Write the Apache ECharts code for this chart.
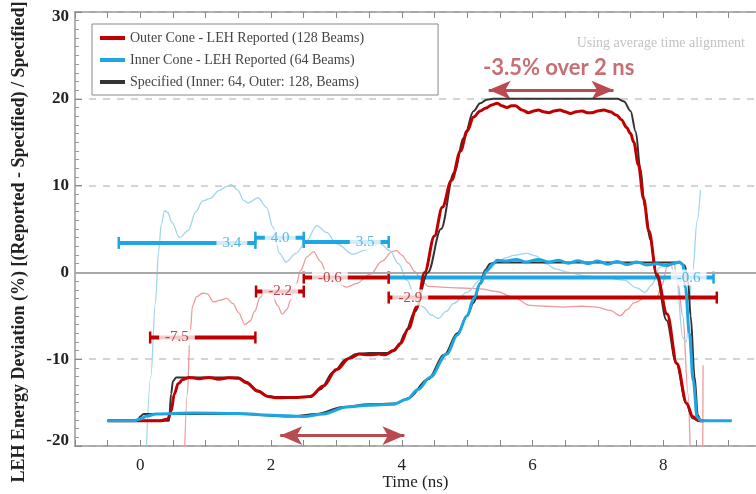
<!DOCTYPE html>
<html>
<head>
<meta charset="utf-8">
<script src="https://cdn.jsdelivr.net/npm/echarts@6/dist/echarts.min.js"></script>
<style>html,body{margin:0;padding:0;background:#fff}#c{width:756px;height:494px}</style>
</head>
<body>
<div id="c"></div>
<script>
// ---------- data (time in ns, deviation in %) ----------
const xTickLabels = [0, 2, 4, 6, 8];
const yTickLabels = [-20, -10, 0, 10, 20, 30];

const outerReported = [[-0.5,-17.1],[0.3,-17.1],[0.42,-16.9],[0.47,-16],[0.52,-14],[0.58,-12.8],[0.65,-12.35],[0.75,-12.1],[0.9,-12.25],[1.05,-12.1],[1.2,-12.3],[1.35,-12.15],[1.5,-12.2],[1.62,-12.7],[1.8,-13.7],[1.95,-14.3],[2.1,-14.45],[2.4,-14.4],[2.6,-14.3],[2.8,-13.1],[3.0,-11.2],[3.2,-9.9],[3.35,-9.4],[3.5,-9.5],[3.65,-9.4],[3.75,-9.5],[3.88,-9.0],[3.98,-8.2],[4.1,-6.5],[4.23,-4.0],[4.35,0],[4.5,4.2],[4.62,7.5],[4.76,10.6],[4.9,14],[5.0,16.3],[5.1,17.9],[5.2,18.6],[5.28,18.9],[5.38,19.3],[5.46,19.5],[5.53,19.2],[5.61,19.0],[5.68,19.2],[5.74,19.2],[5.84,18.7],[5.94,18.4],[6.02,18.6],[6.09,18.7],[6.17,18.5],[6.25,18.4],[6.33,18.6],[6.42,18.7],[6.5,18.5],[6.58,18.3],[6.67,18.5],[6.76,18.6],[6.84,18.4],[6.91,18.4],[7.0,18.6],[7.09,18.7],[7.19,18.5],[7.29,18.1],[7.36,17.6],[7.44,16.7],[7.5,16.0],[7.55,15.0],[7.62,12.4],[7.7,8.5],[7.78,4.8],[7.9,-0.2],[8.06,-4.8],[8.21,-10.5],[8.36,-15.1],[8.45,-16.6],[8.55,-17.1],[8.62,-17.1]];

const innerReported = [[-0.5,-17.1],[-0.1,-17.1],[0.0,-16.9],[0.1,-16.55],[0.24,-16.3],[0.8,-16.2],[1.5,-16.25],[2.0,-16.45],[2.5,-16.6],[2.8,-16.3],[3.16,-15.5],[3.5,-15.3],[3.87,-15.2],[4.08,-14.6],[4.25,-13.5],[4.43,-12.1],[4.69,-9.4],[4.85,-7.2],[5.0,-5],[5.1,-3],[5.2,-1.3],[5.3,0.2],[5.4,1.0],[5.46,1.4],[5.6,1.3],[5.75,1.5],[5.9,1.2],[6.09,1.5],[6.25,1.2],[6.4,1.4],[6.55,1.05],[6.7,1.35],[6.85,1.0],[7.0,1.3],[7.15,0.95],[7.3,1.25],[7.45,0.9],[7.6,1.2],[7.75,0.85],[7.9,1.0],[8.05,0.8],[8.15,1.0],[8.25,1.2],[8.3,0.9],[8.34,-1.7],[8.4,-7],[8.46,-12.5],[8.52,-16.7],[8.58,-17.1],[9.05,-17.1]];

const outerSpecified = [[-0.5,-17.1],[0.44,-17.1],[0.47,-14],[0.5,-12.5],[0.55,-12.1],[1.5,-12.1],[1.62,-12.6],[1.8,-13.6],[1.95,-14.25],[2.05,-14.35],[2.6,-14.35],[2.75,-13.5],[2.95,-11.5],[3.15,-10],[3.3,-9.4],[3.5,-9.3],[3.78,-9.3],[3.85,-9.0],[3.95,-8.5],[4.05,-7],[4.2,-4.5],[4.4,0],[4.6,5],[4.8,11.5],[4.95,15.5],[5.1,18.6],[5.2,19.5],[5.3,19.9],[5.4,20],[7.3,20],[7.4,19.7],[7.5,18.6],[7.58,16.2],[7.65,12],[7.72,7.5],[7.8,3.8],[7.9,-0.5],[8.05,-5.5],[8.2,-10.5],[8.35,-15],[8.45,-16.8],[8.55,-17.1],[8.6,-17.1]];

const innerSpecified = [[-0.5,-17.1],[-0.05,-17.1],[0.0,-16.6],[0.05,-16.3],[1.5,-16.3],[2.3,-16.6],[2.7,-16.3],[3.1,-15.5],[3.5,-15.2],[3.9,-15.1],[4.1,-14.5],[4.4,-12.3],[4.65,-9.5],[4.85,-7],[5.0,-5],[5.1,-3.5],[5.2,-1.2],[5.28,0.3],[5.35,1.0],[5.45,1.15],[8.25,1.15],[8.33,0.8],[8.38,-1],[8.42,-5],[8.48,-12],[8.53,-16.5],[8.58,-17.1],[8.7,-17.1]];

const innerDeviation = [[0.07,-25],[0.16,-12],[0.23,-3.5],[0.28,2.5],[0.32,5.5],[0.37,7.1],[0.42,6.9],[0.48,5.8],[0.6,4.0],[0.73,4.8],[0.85,7.0],[0.95,8.2],[1.06,8.5],[1.21,9.45],[1.32,9.9],[1.39,10.1],[1.49,9.5],[1.58,8.3],[1.65,8.0],[1.8,8.6],[1.93,7.5],[2.03,5.2],[2.13,2.2],[2.23,1.2],[2.38,2.2],[2.54,3.6],[2.7,5.4],[2.85,4.6],[3.0,3.3],[3.26,2.1],[3.45,2.6],[3.67,3.3],[3.82,2.5],[3.95,1.0],[4.08,-0.9],[4.2,-2.8],[4.33,-4.0],[4.45,-4.9],[4.56,-5.3],[4.68,-4.5],[4.79,-3.6],[5.0,-2.3],[5.2,-0.9],[5.35,0.4],[5.46,1.2],[5.6,1.7],[5.71,1.95],[5.91,2.2],[6.05,1.9],[6.2,1.0],[6.35,0.4],[6.55,0],[6.8,-0.4],[7.1,-0.6],[7.4,-0.9],[7.6,-1.8],[7.72,-2.3],[7.82,-1.5],[7.95,0.6],[8.1,1.0],[8.2,-0.5],[8.3,-7.5],[8.35,-8],[8.45,0],[8.52,6],[8.57,9.5]];

const outerDeviation = [[0.66,-25],[0.72,-14],[0.76,-7],[0.8,-3.8],[0.86,-2.8],[0.95,-2.4],[1.02,-2.45],[1.12,-3.4],[1.22,-3.2],[1.32,-3.0],[1.42,-3.6],[1.5,-4.6],[1.6,-6.0],[1.68,-5.6],[1.75,-4.5],[1.83,-2.9],[1.92,-2.0],[2.02,-2.6],[2.1,-3.8],[2.17,-4.8],[2.24,-4.3],[2.3,-3.2],[2.38,-1.5],[2.45,0.2],[2.55,1.8],[2.65,2.4],[2.75,1.3],[2.86,-0.2],[3.0,-1.2],[3.16,-1.7],[3.3,-1.3],[3.52,-0.2],[3.7,1.3],[3.85,2.4],[3.92,2.5],[4.0,2.0],[4.1,1.1],[4.2,0.1],[4.3,-0.9],[4.4,-1.6],[4.6,-1.7],[4.9,-1.8],[5.2,-1.9],[5.45,-2.2],[5.71,-2.85],[5.96,-3.8],[6.2,-3.9],[6.47,-4.0],[6.75,-3.9],[6.98,-4.0],[7.2,-4.4],[7.34,-5.0],[7.45,-4.3],[7.55,-3.5],[7.75,-2.85],[7.9,-2.9],[7.98,-1.5],[8.06,0.6],[8.16,1.2],[8.22,-1],[8.3,-5],[8.38,-14],[8.44,-25],[8.6,-25],[8.61,-10.7]];

// average-deviation bars: [start, end, value, label position]
const innerAverages = [[-0.33,1.76,3.4,1.4],[1.76,2.5,4.0,2.14],[2.5,3.8,3.5,3.44],[3.8,8.77,-0.6,8.39]];
const outerAverages = [[0.15,1.76,-7.5,0.56],[1.77,2.5,-2.2,2.14],[2.5,3.8,-0.6,2.9],[3.8,8.82,-2.9,4.13]];

// double arrows: [start, end, value]
const arrowTop = [5.33, 7.24, 21.0];
const arrowBottom = [2.14, 4.04, -18.8];
const annotationText = ['-3.5% over 2 ns', 6.4, 23.6];

// ---------- styles ----------
const RED = '#c00000', BLUE = '#1ea6e2', BLACK = '#333333';
const LRED = '#ef9a9a', LBLUE = '#9fd5ee';
const ARROW = '#b94a50';
const SERIF = '"Liberation Serif","DejaVu Serif",serif';
const SPEC = 'Specified (Inner: 64, Outer: 128, Beams)';
const OUTER = 'Outer Cone - LEH Reported (128 Beams)';
const INNER = 'Inner Cone - LEH Reported (64 Beams)';

function curve(name, data, color, width, z) {
  return {type:'line', name, data, z, symbol:'none', smooth:0.35, smoothMonotone:'x',
    lineStyle:{color, width}, itemStyle:{color}, silent:true, animation:false};
}
function bars(list, color) {
  return list.map(b => ({type:'line', data:[[b[0],b[2]],[b[1],b[2]]], z:3, symbol:'rect',
    symbolSize:[2.5,12], showSymbol:true, lineStyle:{color, width:4},
    itemStyle:{color, borderWidth:0}, silent:true, animation:false}));
}
function barLabels(list, color) {
  return {type:'scatter', z:10, symbolSize:0, silent:true, animation:false,
    itemStyle:{color:'#ffffff'},
    data: list.map(b => ({value:[b[3], b[2]], name: b[2].toFixed(1)})),
    label:{show:true, position:'inside', formatter: p => p.name, color,
      textBorderWidth:0, textBorderColor:'transparent', textShadowBlur:0,
      fontFamily:SERIF, fontSize:15, backgroundColor:'#ffffff', padding:[1,6,0,6]}};
}
function arrow(a) {
  return [{coord:[a[0],a[2]]},{coord:[a[1],a[2]]}];
}

const series = [
  Object.assign(curve('dev-outer', outerDeviation, LRED, 1.3, 1), {
    markLine:{silent:true, symbol:'none', animation:false, label:{show:false},
      lineStyle:{color:'#a8a8a8', width:2, type:'solid'}, data:[{yAxis:0}]}}),
  curve('dev-inner', innerDeviation, LBLUE, 1.3, 1),
  ...bars(innerAverages, BLUE),
  ...bars(outerAverages, RED),
  curve(SPEC, outerSpecified, BLACK, 2, 5),
  curve(SPEC, innerSpecified, BLACK, 2, 5),
  curve(OUTER, outerReported, RED, 3, 6),
  curve(INNER, innerReported, BLUE, 3, 7),
  barLabels(innerAverages, '#2fa6dc'),
  barLabels(outerAverages, '#a8141c'),
  {type:'line', data:[], z:8, silent:true, animation:false,
    markLine:{silent:true, animation:false, symbol:['arrow','arrow'], symbolSize:[14,22],
      label:{show:false}, lineStyle:{color:ARROW, width:3, type:'solid'},
      data:[arrow(arrowTop), arrow(arrowBottom)]}},
  {type:'scatter', z:9, symbolSize:0, silent:true, animation:false,
    itemStyle:{color:'#ffffff'},
    data:[{value:[annotationText[1], annotationText[2]], name:annotationText[0]}],
    label:{show:true, position:'inside', formatter:p=>p.name, color:ARROW,
      textBorderWidth:0, textBorderColor:'transparent',
      fontFamily:'Lato,"Open Sans",sans-serif', fontWeight:'bold', fontSize:22}}
];

const axisLineStyle = {color:'#999', width:1.5};
const chart = echarts.init(document.getElementById('c'), null, {renderer:'canvas'});
chart.setOption({
  animation:false,
  backgroundColor:'#fff',
  title:{text:'Using average time alignment', right:6, top:31,
    textStyle:{fontFamily:SERIF, fontSize:14, fontWeight:'normal', color:'#c2c2c2'}},
  legend:{data:[OUTER, INNER, SPEC], orient:'vertical', left:92, top:24,
    icon:'rect', itemWidth:25, itemHeight:4, itemGap:8,
    padding:[7,74,6,8], borderColor:'#888', borderWidth:1, selectedMode:false,
    textStyle:{fontFamily:SERIF, fontSize:14, color:'#444'}},
  grid:{left:75, right:0, top:12, bottom:48, containLabel:false, outerBoundsMode:'none'},
  xAxis:[{
    type:'value', min:-1, max:9.42, interval:0.5, position:'bottom',
    name:'Time (ns)', nameLocation:'middle', nameGap:28, nameMoveOverlap:false,
    nameTextStyle:{fontFamily:SERIF, fontSize:17, color:'#222'},
    axisLine:{show:true, onZero:false, lineStyle:axisLineStyle},
    axisTick:{show:true, inside:true, length:6, lineStyle:{color:'#888'}},
    axisLabel:{interval:0, margin:11, fontFamily:SERIF, fontSize:17, color:'#222',
      formatter: v => (xTickLabels.indexOf(Math.round(v*100)/100) >= 0 ? String(v) : '')},
    splitLine:{show:false}
  },{
    type:'value', min:-1, max:9.42, interval:0.5, position:'top',
    axisLine:{show:true, onZero:false, lineStyle:axisLineStyle},
    axisTick:{show:true, inside:true, length:6, lineStyle:{color:'#888'}},
    axisLabel:{show:false}, splitLine:{show:false}
  }],
  yAxis:{
    type:'value', min:-20, max:30, interval:10,
    axisLine:{show:true, onZero:false, lineStyle:axisLineStyle},
    axisTick:{show:true, inside:true, length:7, lineStyle:{color:'#888'}},
    minorTick:{show:true, splitNumber:10, length:4, lineStyle:{color:'#999'}},
    axisLabel:{margin:6, fontFamily:SERIF, fontSize:17, fontWeight:'bold', color:'#222',
      formatter: v => {
        if (yTickLabels.indexOf(v) < 0) return '';
        if (v === 30) return '{top|' + v + '}';
        if (v === -20) return '{bot|' + v + '}';
        return String(v);
      },
      rich:{
        top:{padding:[10,0,0,0], fontFamily:SERIF, fontSize:17, fontWeight:'bold', color:'#222'},
        bot:{padding:[0,0,10,0], fontFamily:SERIF, fontSize:17, fontWeight:'bold', color:'#222'}
      }},
    splitLine:{show:true, lineStyle:{color:'#c6c6c6', width:1.5, type:[7,7]}}
  },
  graphic:[{type:'text', x:19, y:242, rotation:Math.PI/2, silent:true,
    style:{text:'LEH Energy Deviation (%) [(Reported - Specified) / Specified]',
      font:'bold 18px "Liberation Serif"', fill:'#222', align:'center', verticalAlign:'middle'}}],
  series
});
</script>
</body>
</html>
